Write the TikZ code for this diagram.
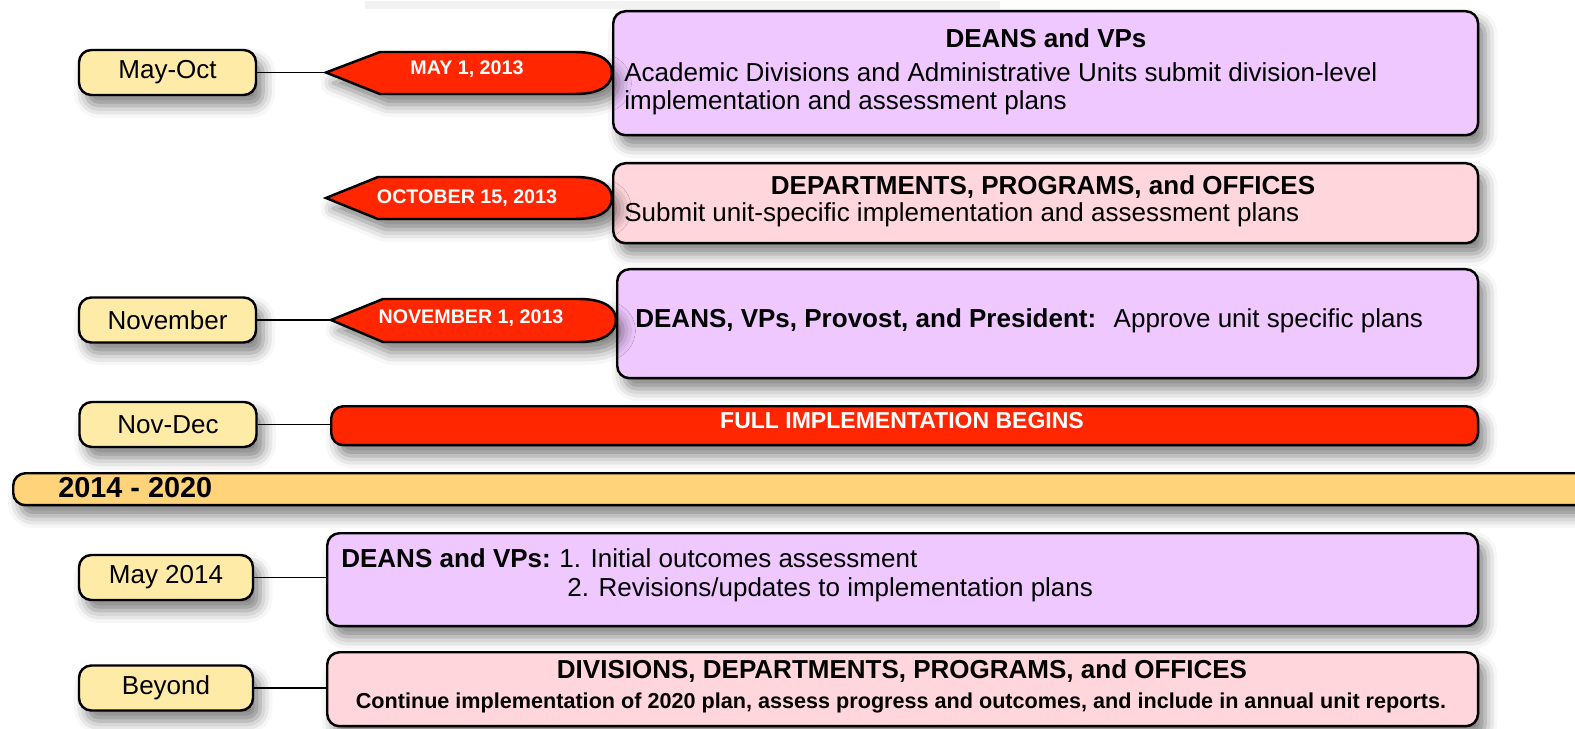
\documentclass[tikz,border=0pt]{standalone}
\usepackage{fontspec}
\setmainfont{Liberation Sans}
\usetikzlibrary{shadows.blur}

\definecolor{lilac}{HTML}{EEC8FF}
\definecolor{blush}{HTML}{FFD6DC}
\definecolor{cream}{HTML}{FFEBA8}
\definecolor{signal}{HTML}{FF2600}
\definecolor{amber}{HTML}{FFD37A}

\newcommand\txtbody{\fontsize{14.8}{18}\selectfont}
\newcommand\txtdate{\fontsize{11.2}{13}\selectfont\bfseries}

\tikzset{
  shade/.style={blur shadow={shadow xshift=4pt, shadow yshift=-6pt,
      shadow blur radius=7pt, shadow opacity=50}},
  panel/.style={draw, line width=1.4pt, rounded corners=7pt, shade,
      anchor=north west, inner sep=0pt},
  month/.style={panel, anchor=center, fill=cream, minimum height=0.9cm,
      minimum width=3.54cm, font=\txtbody},
  datetag/.style={draw, line width=1.4pt, fill=signal, shade},
  datetext/.style={text=white, font=\txtdate},
  link/.style={line width=1.1pt},
  txt/.style={inner sep=0pt, font=\txtbody}
}

\begin{document}
\begin{tikzpicture}[x=0.02cm, y=-0.02cm]
\useasboundingbox (0,0) rectangle (1575,729);
\fill[black!5] (365,1) rectangle (1000,9);

% month labels
\node[month] (mayoct) at (167.5,72.5) {May-Oct};
\node[month] (nov) at (167.5,320) {November};
\node[month] (novdec) at (168,424.5) {Nov-Dec};
\node[month, minimum width=3.48cm] (may14) at (166,577.5) {May 2014};
\node[month, minimum width=3.48cm] (beyond) at (166,688) {Beyond};

% boxes
\node[panel, fill=lilac, minimum width=17.3cm, minimum height=2.48cm] (deans) at (612,10) {};
\node[panel, fill=blush, minimum width=17.3cm, minimum height=1.6cm] (depts) at (612,162) {};
\node[panel, fill=lilac, minimum width=17.22cm, minimum height=2.18cm] (approve) at (616,268) {};
\node[panel, fill=signal, minimum width=22.94cm, minimum height=0.78cm] (full) at (330,405) {};
\node[panel, fill=amber, minimum width=31.6cm, minimum height=0.64cm] (years) at (12,472) {};
\node[panel, fill=lilac, minimum width=23.02cm, minimum height=1.86cm] (initial) at (326,532) {};
\node[panel, fill=blush, minimum width=23.02cm, minimum height=1.48cm] (cont) at (326,651) {};

% date tags
\coordinate (tipa) at (326,72.5);
\coordinate (tipb) at (326,198);
\coordinate (tipc) at (331,320);
\draw[datetag] (tipa) -- (380,52) -- (575,52) .. controls (602,52) and (612,62) .. (612,72.5)
  .. controls (612,84) and (602,94) .. (575,94) -- (380,94) -- cycle;
\draw[datetag] (tipb) -- (378,177) -- (575,177) .. controls (602,177) and (612,187) .. (612,198)
  .. controls (612,209) and (602,219) .. (575,219) -- (378,219) -- cycle;
\draw[datetag] (tipc) -- (383,299) -- (579,299) .. controls (606,299) and (616,309) .. (616,320)
  .. controls (616,331) and (606,342) .. (579,342) -- (383,342) -- cycle;
\node[datetext] (maydate) at (467,69) {MAY 1, 2013};
\node[datetext] (octdate) at (467,198) {OCTOBER 15, 2013};
\node[datetext] (novdate) at (471,318) {NOVEMBER 1, 2013};

% connectors
\draw[link] (mayoct.east) -- (tipa);
\draw[link] (nov.east) -- (tipc);
\draw[link] (novdec.east) -- (novdec.east -| full.west);
\draw[link] (may14.east) -- (may14.east -| initial.west);
\draw[link] (beyond.east) -- (beyond.east -| cont.west);

% texts
\node[txt, font=\txtbody\bfseries] (t1) at (1046,38) {DEANS and VPs};
\node[txt, anchor=west] (t2) at (624,72.5) {Academic Divisions and Administrative Units submit division-level};
\node[txt, anchor=west] (t3) at (624,103) {implementation and assessment plans};
\node[txt, font=\txtbody\bfseries] (t4) at (1043,187) {DEPARTMENTS, PROGRAMS, and OFFICES};
\node[txt, anchor=west] (t5) at (624,215) {Submit unit-specific implementation and assessment plans};
\node[txt, anchor=west] (t6) at (635,321) {\textbf{DEANS, VPs, Provost, and President:}\hspace{0.3em} Approve unit specific plans};
\node[txt, font=\fontsize{13.1}{15}\selectfont\bfseries, text=white] (t7) at (902,421) {FULL IMPLEMENTATION BEGINS};
\node[txt, anchor=west, font=\fontsize{16.4}{19}\selectfont\bfseries] (t8) at (58,488) {2014 - 2020};
\node[txt, anchor=west, font=\txtbody\bfseries] (t9) at (341,558) {DEANS and VPs:};
\node[txt, anchor=west] (t10) at (559,558) {1. Initial outcomes assessment};
\node[txt, anchor=west] (t11) at (567,590) {2. Revisions/updates to implementation plans};
\node[txt, font=\txtbody\bfseries] (t12) at (902,671) {DIVISIONS, DEPARTMENTS, PROGRAMS, and OFFICES};
\node[txt, font=\fontsize{12.3}{14}\selectfont\bfseries] (t13) at (901,703) {Continue implementation of 2020 plan, assess progress and outcomes, and include in annual unit reports.};
\end{tikzpicture}
\end{document}
